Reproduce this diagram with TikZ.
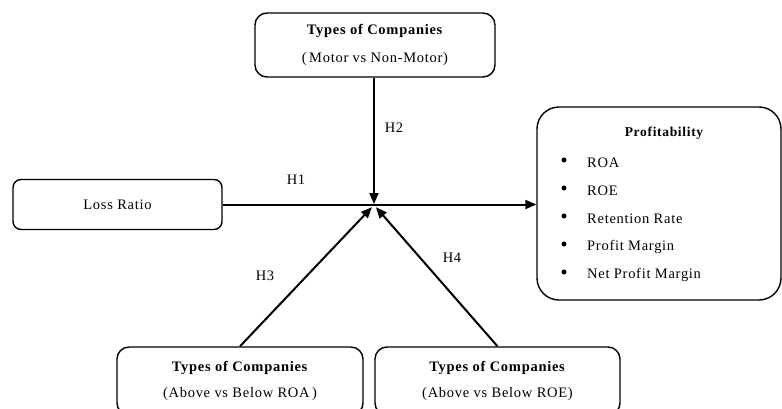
\documentclass[tikz,border=0pt]{standalone}
\usepackage{fontspec}
\setmainfont{Liberation Serif}[LetterSpace=5]
\usetikzlibrary{arrows.meta}
\tikzset{
  box/.style={draw, line width=1.4pt, align=center, inner sep=0pt},
  conn/.style={line width=2pt, -{Triangle[length=11pt,width=9pt]}},
  hlab/.style={font=\fontsize{14.5}{16}\selectfont},
  item/.style={anchor=west, inner sep=0pt, font=\fontsize{14.5}{16}\selectfont},
  bul/.style={circle, fill, inner sep=0pt, minimum size=5pt},
}
\begin{document}
\begin{tikzpicture}[x=1pt,y=-1pt]
\clip (0,0) rectangle (782,408);
\fill[white] (0,0) rectangle (782,408);
\node[box, rounded corners=12pt, minimum width=240pt, minimum height=64pt, font=\fontsize{14.5}{16}\selectfont] (top) at (375,45)
  {\textbf{Types of Companies}\\[12pt](\,Motor vs Non-Motor)};
\node[box, rounded corners=8pt, minimum width=209pt, minimum height=50pt, font=\fontsize{14.5}{16}\selectfont] (loss) at (117.5,204.5) {Loss Ratio};
\node[box, rounded corners=22pt, minimum width=244pt, minimum height=193pt] (prof) at (659,203.5) {};
\node[inner sep=0pt, font=\bfseries\fontsize{13.5}{16}\selectfont] (ptitle) at (664,133) {Profitability};
\foreach \i/\t/\yy in {1/ROA/163, 2/ROE/191, 3/Retention Rate/219, 4/Profit Margin/247, 5/Net Profit Margin/275}{
  \node[bul] (b\i) at (564,\yy-3) {};
  \node[item] (it\i) at (587,\yy) {\t};
}
\node[box, rounded corners=12pt, minimum width=246pt, minimum height=68pt, font=\fontsize{14.5}{16}\selectfont] (bl) at (240,381)
  {\textbf{Types of Companies}\\[10pt](Above vs Below ROA\,)};
\node[box, rounded corners=12pt, minimum width=245pt, minimum height=68pt, font=\fontsize{14.5}{16}\selectfont] (br) at (497.5,381)
  {\textbf{Types of Companies}\\[10pt](Above vs Below ROE)};
\coordinate (m) at (374,205);
\coordinate (mt) at (374,204);
\draw[conn] (loss.east) -- (loss.east -| prof.west);
\draw[conn] (top.south -| mt) -- (mt);
\draw[conn, shorten >=3pt] (bl.north) -- (m);
\draw[conn, shorten >=3pt] (br.north) -- (m);
\node[hlab] (h1) at (296,180) {H1};
\node[hlab] (h2) at (394,128) {H2};
\node[hlab] (h3) at (265,276) {H3};
\node[hlab] (h4) at (452,258) {H4};
\end{tikzpicture}
\end{document}
